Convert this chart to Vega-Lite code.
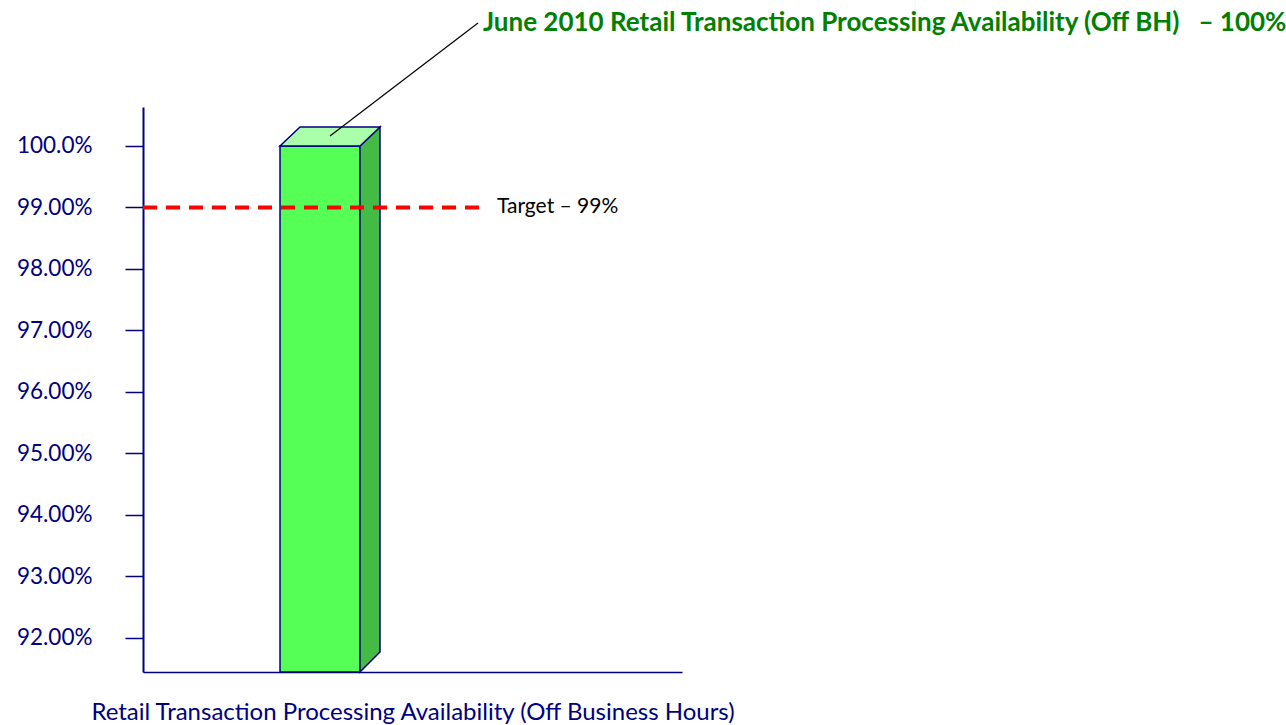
{
  "$schema": "https://vega.github.io/schema/vega-lite/v6.json",
  "autosize": "none",
  "width": 539,
  "height": 565,
  "padding": {"left": 143, "top": 107, "right": 604, "bottom": 53},
  "background": "white",
  "config": {"view": {"stroke": null}, "font": "Lato"},
  "datasets": {
    "bar": [{"series": "Off BH", "x0": 2.542, "x1": 4.026, "value": 100}],
    "side": [
      {"x": 4.026, "lo": 91.447, "hi": 100},
      {"x": 4.397, "lo": 91.772, "hi": 100.309}
    ],
    "top": [
      {"x": 2.542, "lo": 100, "hi": 100},
      {"x": 2.913, "lo": 100, "hi": 100.309},
      {"x": 4.026, "lo": 100, "hi": 100.309},
      {"x": 4.397, "lo": 100.309, "hi": 100.309}
    ],
    "target": [{"label": "Target – 99%", "value": 99, "xs": 0, "xe": 6.252, "xl": 6.568}],
    "callout": [{"label": "June 2010 Retail Transaction Processing Availability (Off BH) \u00a0\u00a0– 100%", "x0": 3.469, "y0": 100.163, "x1": 6.215, "y1": 102.0, "xt": 6.308}]
  },
  "layer": [
    {
      "data": {"name": "bar"},
      "mark": {"type": "rect", "fill": "#55FF55", "stroke": "#000080", "strokeWidth": 1.5},
      "encoding": {
        "x": {"field": "x0", "type": "quantitative",
          "scale": {"domain": [0, 10], "nice": false, "zero": false, "padding": 0},
          "axis": {"ticks": false, "labels": false, "grid": false, "domainColor": "#000080", "domainWidth": 1.5,
            "title": "Retail Transaction Processing Availability (Off Business Hours)",
            "titleFont": "Lato", "titleFontSize": 24, "titleFontWeight": "normal", "titleColor": "#000080", "titlePadding": 28}},
        "x2": {"field": "x1"},
        "y": {"field": "value", "type": "quantitative",
          "scale": {"domain": [91.447, 100.634], "nice": false, "zero": false, "padding": 0},
          "axis": {"values": [92, 93, 94, 95, 96, 97, 98, 99, 100], "grid": false, "title": null,
            "labelExpr": "datum.value == 100 ? '100.0%' : format(datum.value, '.2f') + '%'",
            "labelFont": "Lato", "labelFontSize": 22.5, "labelColor": "#000080", "labelPadding": 33,
            "tickSize": 18, "tickColor": "#000080", "tickWidth": 1.5,
            "domainColor": "#000080", "domainWidth": 2}},
        "y2": {"value": "height"}
      }
    },
    {
      "data": {"name": "side"},
      "mark": {"type": "area", "fill": "#44BB44", "stroke": "#000080", "strokeWidth": 1.5, "fillOpacity": 1},
      "encoding": {
        "x": {"field": "x", "type": "quantitative"},
        "y": {"field": "lo", "type": "quantitative"},
        "y2": {"field": "hi"}
      }
    },
    {
      "data": {"name": "top"},
      "mark": {"type": "area", "fill": "#AAFFAA", "stroke": "#000080", "strokeWidth": 1.5, "fillOpacity": 1},
      "encoding": {
        "x": {"field": "x", "type": "quantitative"},
        "y": {"field": "lo", "type": "quantitative"},
        "y2": {"field": "hi"}
      }
    },
    {
      "data": {"name": "target"},
      "mark": {"type": "rule", "color": "#FF0000", "strokeWidth": 4, "strokeDash": [14, 9]},
      "encoding": {
        "x": {"field": "xs", "type": "quantitative"},
        "x2": {"field": "xe"},
        "y": {"field": "value", "type": "quantitative"}
      }
    },
    {
      "data": {"name": "target"},
      "mark": {"type": "text", "align": "left", "baseline": "middle", "font": "Lato", "fontSize": 21, "color": "#000000"},
      "encoding": {
        "x": {"field": "xl", "type": "quantitative"},
        "y": {"field": "value", "type": "quantitative"},
        "text": {"field": "label"}
      }
    },
    {
      "data": {"name": "callout"},
      "mark": {"type": "rule", "color": "#000000", "strokeWidth": 1.2, "clip": false},
      "encoding": {
        "x": {"field": "x0", "type": "quantitative"},
        "x2": {"field": "x1"},
        "y": {"field": "y0", "type": "quantitative"},
        "y2": {"field": "y1"}
      }
    },
    {
      "data": {"name": "callout"},
      "mark": {"type": "text", "align": "left", "baseline": "middle", "font": "Lato", "fontSize": 26, "fontWeight": "bold", "color": "#008000", "clip": false},
      "encoding": {
        "x": {"field": "xt", "type": "quantitative"},
        "y": {"field": "y1", "type": "quantitative"},
        "text": {"field": "label"}
      }
    }
  ]
}
